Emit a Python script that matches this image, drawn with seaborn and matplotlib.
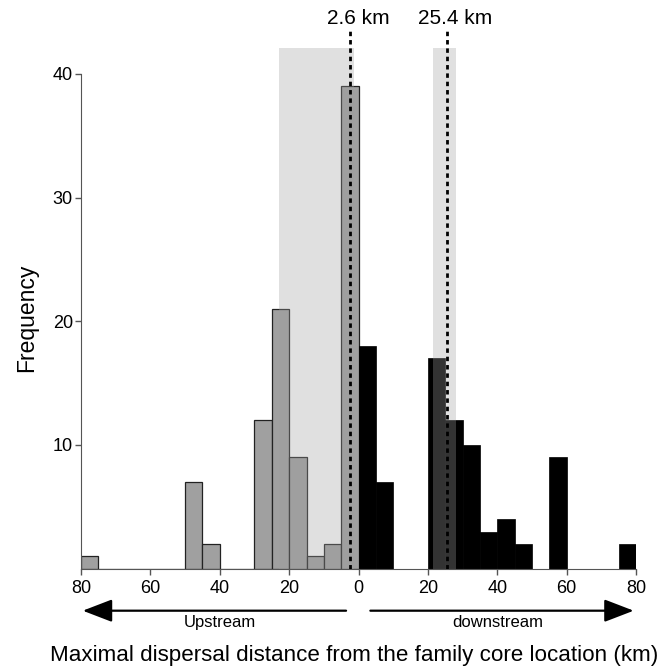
import matplotlib
matplotlib.use("Agg")
import matplotlib.pyplot as plt
import seaborn as sns

# bin centres (km, negative = upstream) and counts, 5 km bins
up_centres = [-77.5, -47.5, -42.5, -27.5, -22.5, -17.5, -12.5, -7.5, -2.5]
up_counts = [1, 7, 2, 12, 21, 9, 1, 2, 39]
down_centres = [2.5, 7.5, 22.5, 27.5, 32.5, 37.5, 42.5, 47.5, 57.5, 77.5]
down_counts = [18, 7, 17, 12, 10, 3, 4, 2, 9, 2]

# medians and their intervals
medians = [-2.6, 25.4]
median_labels = ["2.6 km", "25.4 km"]
intervals = [(-23.0, -1.4), (21.6, 28.1)]

xticks = [-80, -60, -40, -20, 0, 20, 40, 60, 80]
yticks = [10, 20, 30, 40]

sns.set_style("white")
plt.rcParams["font.family"] = ["Liberation Sans", "DejaVu Sans"]
plt.rcParams["text.color"] = "black"
plt.rcParams["axes.labelcolor"] = "black"
plt.rcParams["xtick.labelcolor"] = "black"
plt.rcParams["ytick.labelcolor"] = "black"

fig = plt.figure(figsize=(6.64, 6.67), dpi=100)
ax = fig.add_axes([0.122, 0.1475, 0.836, 0.8067])

sns.histplot(x=up_centres, weights=up_counts, binwidth=5, binrange=(-80, 0),
             color="#a0a0a0", alpha=1, edgecolor="#222222", linewidth=0.9, ax=ax)
sns.histplot(x=down_centres, weights=down_counts, binwidth=5, binrange=(0, 80),
             color="black", alpha=1, edgecolor="black", linewidth=0.5, ax=ax)

ymax = 43.5
ax.set_xlim(-80, 80)
ax.set_ylim(0, ymax)

# shaded intervals, drawn over the bars
for lo, hi in intervals:
    ax.axvspan(lo, hi, ymin=0, ymax=42.1 / ymax, color="#9f9f9f", alpha=0.32,
               lw=0, zorder=3)

for m, lab in zip(medians, median_labels):
    ax.axvline(m, color="black", lw=2, linestyle=(0, (1.6, 1.4)), zorder=4)
    ax.text(m + 2.4, ymax + 1.0, lab, ha="center", va="center", fontsize=15,
            clip_on=False)

ax.set_xticks(xticks)
ax.set_xticklabels([str(abs(t)) for t in xticks], fontsize=13)
ax.set_yticks(yticks)
ax.set_yticklabels([str(t) for t in yticks], fontsize=13)
ax.tick_params(axis="both", direction="out", length=4.3, width=1,
               color="#555555", left=True, bottom=True)
ax.tick_params(axis="x", pad=4)
ax.tick_params(axis="y", pad=1.5)

for s in ["top", "right"]:
    ax.spines[s].set_visible(False)
ax.spines["left"].set_bounds(0, 40)
ax.spines["left"].set_color("#555555")
ax.spines["bottom"].set_color("#555555")

ax.set_ylabel("Frequency", fontsize=16.5)
ax.yaxis.set_label_coords(-0.0775, 0.4666)
ax.set_xlabel("Maximal dispersal distance from the family core location (km)",
              fontsize=16.1, va="center")
ax.xaxis.set_label_coords(0.492, -0.1624)

# direction arrows
trans = ax.get_xaxis_transform()
arrow = dict(arrowstyle="-|>,head_length=1.3,head_width=0.5", color="black",
             lw=1.6, mutation_scale=14, shrinkA=0, shrinkB=0)
ax.annotate("", xy=(-79.5, -0.0782), xytext=(-3.6, -0.0782), xycoords=trans,
            textcoords=trans, arrowprops=arrow, annotation_clip=False)
ax.annotate("", xy=(79.3, -0.0782), xytext=(3.4, -0.0782), xycoords=trans,
            textcoords=trans, arrowprops=arrow, annotation_clip=False)
ax.text(-40, -0.1005, "Upstream", transform=trans, ha="center", va="center",
        fontsize=12)
ax.text(40, -0.1005, "downstream", transform=trans, ha="center", va="center",
        fontsize=12)

fig.savefig("out.png", dpi=100)
